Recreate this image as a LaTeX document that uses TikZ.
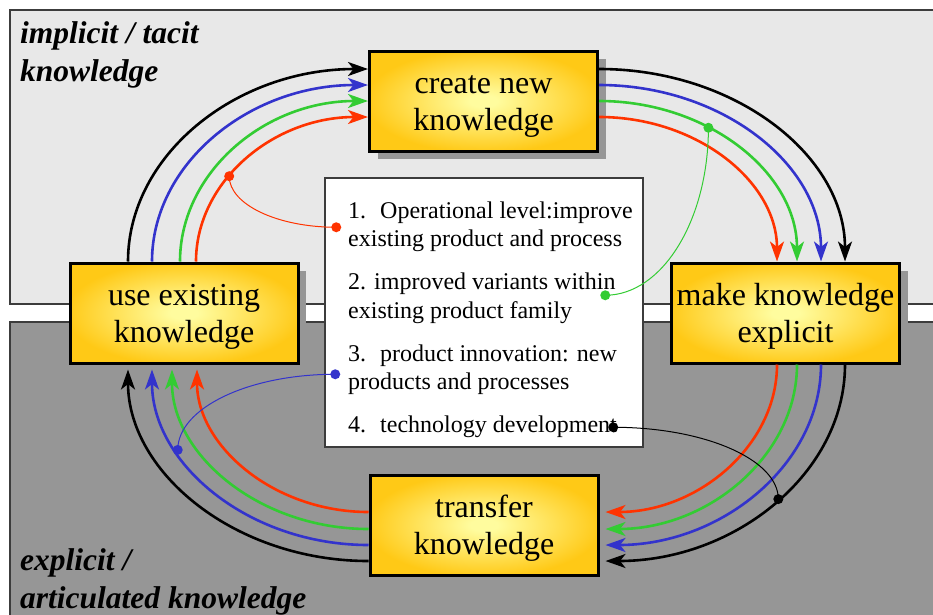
\documentclass[tikz,border=0pt]{standalone}
\usepackage{fontspec}
\setmainfont{Liberation Serif}
\usetikzlibrary{arrows.meta,calc,shadows}

\definecolor{paleband}{HTML}{E8E8E8}
\definecolor{darkband}{HTML}{969696}
\definecolor{bandline}{HTML}{3C3C3C}
\definecolor{goldedge}{RGB}{255,201,22}
\definecolor{goldcore}{RGB}{255,252,158}
\definecolor{flowred}{HTML}{FF3300}
\definecolor{flowgreen}{HTML}{33CC33}
\definecolor{flowblue}{HTML}{3333CC}

% warm glow inside the four stage boxes
\pgfdeclareradialshading{goldglow}{\pgfpoint{0bp}{0bp}}{%
  color(0bp)=(goldcore); color(3bp)=(goldcore); color(26bp)=(goldedge); color(50bp)=(goldedge)}

% fixed first-line height and last-line depth, so text sits alike in every box
\newcommand\headroom[1]{\rule{0pt}{#1}}
\newcommand\footroom[1]{\rule[-#1]{0pt}{#1}}

\begin{document}
\begin{tikzpicture}[x=1pt,y=-1pt,
  band/.style={draw=bandline, line width=1.5pt},
  stagebox/.style={draw=black, line width=3pt, shading=goldglow,
    minimum width=228pt, minimum height=100pt, inner sep=0pt, align=center,
    font=\fontsize{32}{37.5}\selectfont},
  shadowed/.style={drop shadow={shadow xshift=8pt, shadow yshift=-8pt,
    fill=darkband, opacity=1}},
  legendbox/.style={draw=bandline, line width=1.5pt, fill=white,
    minimum width=318pt, minimum height=269pt, inner sep=0pt},
  legendtext/.style={anchor=north west, inner sep=0pt, align=left,
    font=\fontsize{24}{28.5}\selectfont},
  regionlabel/.style={anchor=north west, inner sep=0pt, align=left,
    font=\fontsize{31.5}{38.5}\selectfont\bfseries\itshape},
  flow/.style={draw=#1, line width=2.6pt,
    -{Stealth[length=20pt,width=14pt,inset=5.5pt]}},
  pointer/.style={draw=#1, line width=1pt},
  % quarter turns: vertical start -> horizontal end, and the reverse
  vturn/.style={to path={.. controls ($(\tikztostart)!0.552!(\tikztostart|-\tikztotarget)$)
    and ($(\tikztotarget)!0.552!(\tikztostart|-\tikztotarget)$) .. (\tikztotarget) \tikztonodes}},
  hturn/.style={to path={.. controls ($(\tikztostart)!0.552!(\tikztotarget|-\tikztostart)$)
    and ($(\tikztotarget)!0.552!(\tikztotarget|-\tikztostart)$) .. (\tikztotarget) \tikztonodes}}
]
\useasboundingbox (0,0) rectangle (933,614);
\clip (0,0) rectangle (933,614);

% the two knowledge regions
\draw[band, fill=paleband] (10,10) rectangle (950,304);
\draw[band, fill=darkband] (10,322) rectangle (950,640);

\node[regionlabel] (tacit) at (20,18)
  {\headroom{25pt}implicit / tacit\\knowledge};
\node[regionlabel] (articulated) at (20,545)
  {\headroom{25pt}explicit /\\articulated knowledge};

% the four stages
\node[stagebox, shadowed] (create)   at (483.5,101)
  {\headroom{29.5pt}create new\\knowledge\footroom{8pt}};
\node[stagebox, shadowed] (make)     at (785.5,313)
  {\headroom{29.5pt}make knowledge\\explicit\footroom{8pt}};
\node[stagebox, shadowed] (use)      at (184,313)
  {\headroom{29.5pt}use existing\\knowledge\footroom{8pt}};
\node[stagebox, shadowed] (transfer) at (484,525)
  {\headroom{29.5pt}transfer\\knowledge\footroom{8pt}};

% list of innovation levels
\node[legendbox] (legend) at (484,312.5) {};
\node[legendtext] (items) at (348,198) {\headroom{20pt}1.~ Operational level:improve\\existing product and process\\[14.5pt]2. improved variants within\\existing product family\\[14.5pt]3.~ product innovation: new\\products and processes\\[14.5pt]4.~ technology development};

% ports on the stage boxes
\foreach \n/\d in {k/-56,b/-32,g/-4,r/12}
  \coordinate (useN\n) at ([xshift=\d pt]use.north);
\foreach \n/\d in {k/-56,b/-32,g/-12,r/13}
  \coordinate (useS\n) at ([xshift=\d pt]use.south);
\foreach \n/\d in {k/32,b/16,g/0,r/-16} {
  \coordinate (newW\n) at ([yshift=\d pt]create.west);
  \coordinate (newE\n) at ([yshift=\d pt]create.east);}
\foreach \n/\d in {k/59.5,b/35.5,g/11.5,r/-8.5} {
  \coordinate (expN\n) at ([xshift=\d pt]make.north);
  \coordinate (expS\n) at ([xshift=\d pt]make.south);}
\foreach \n/\d in {k/-36,b/-20,g/-4,r/13} {
  \coordinate (trW\n) at ([yshift=\d pt]transfer.west);
  \coordinate (trE\n) at ([yshift=\d pt]transfer.east);}

% use -> create
\draw[flow=black]     (useNk) to[vturn] (newWk);
\draw[flow=flowblue]  (useNb) to[vturn] (newWb);
\draw[flow=flowgreen] (useNg) to[vturn] (newWg);
\draw[flow=flowred]   (useNr) to[vturn] coordinate[pos=0.40] (redpin) (newWr);

% create -> make explicit
\draw[flow=black]     (newEk) to[hturn] (expNk);
\draw[flow=flowblue]  (newEb) to[hturn] (expNb);
\draw[flow=flowgreen] (newEg) to[hturn] coordinate[pos=0.37] (greenpin) (expNg);
\draw[flow=flowred]   (newEr) to[hturn] (expNr);

% make explicit -> transfer
\draw[flow=black, shorten >=6pt]     (expSk) to[vturn] coordinate[pos=0.48] (blackpin) (trEk);
\draw[flow=flowblue, shorten >=6pt]  (expSb) to[vturn] (trEb);
\draw[flow=flowgreen, shorten >=6pt] (expSg) to[vturn] (trEg);
\draw[flow=flowred, shorten >=6pt]   (expSr) to[vturn] (trEr);

% transfer -> use
\draw[flow=black, shorten >=5pt]     (trWk) to[hturn] (useSk);
\draw[flow=flowblue, shorten >=5pt]  (trWb) to[hturn] coordinate[pos=0.69] (bluepin) (useSb);
\draw[flow=flowgreen, shorten >=5pt] (trWg) to[hturn] (useSg);
\draw[flow=flowred, shorten >=5pt]   (trWr) to[hturn] (useSr);

% leaders from the list entries to the loops
\coordinate (redtag)   at ($(legend.north west)+(12,50)$);
\coordinate (greentag) at ($(legend.north west)+(281,118)$);
\coordinate (bluetag)  at ($(legend.north west)+(11,197)$);
\coordinate (blacktag) at ($(legend.north west)+(289,250)$);

\draw[pointer=flowred]   (redpin) to[vturn] (redtag);
\draw[pointer=flowgreen] (greenpin) to[vturn] (greentag);
\draw[pointer=flowblue]  (bluepin) to[vturn] (bluetag);
\draw[pointer=black]     (blacktag) to[hturn] (blackpin);

\fill[flowred]   (redpin) circle (5pt) (redtag) circle (5pt);
\fill[flowgreen] (greenpin) circle (5pt) (greentag) circle (5pt);
\fill[flowblue]  (bluepin) circle (5pt) (bluetag) circle (5pt);
\fill[black]     (blackpin) circle (5pt) (blacktag) circle (5pt);
\end{tikzpicture}
\end{document}
